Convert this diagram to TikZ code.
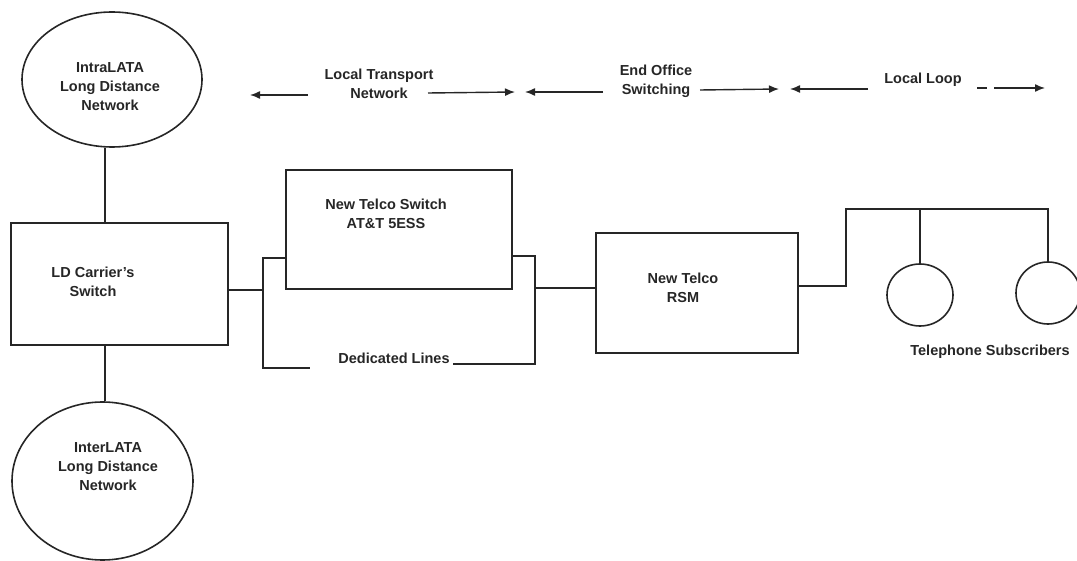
\documentclass[tikz,border=0pt]{standalone}
\usepackage{fontspec}
\setmainfont{Liberation Sans}
\usetikzlibrary{shapes.geometric,arrows.meta,calc}
\begin{document}
\begin{tikzpicture}[x=1pt,y=-1pt,
  ink/.style={draw=black!85,line width=1.6pt},
  boxnode/.style={ink,rectangle,inner sep=0pt},
  ellnode/.style={ink,ellipse,inner sep=0pt},
  lbl/.style={font=\bfseries\fontsize{14.5}{19}\selectfont,align=center,inner sep=0pt,text=black!85},
  wire/.style={draw=black!85,line width=1.5pt},
  arr/.style={draw=black!85,line width=1.4pt,-{Latex[length=10pt,width=8pt]}},
]
\useasboundingbox (0,0) rectangle (1077,561);

% shapes
\node[ellnode,minimum width=180pt,minimum height=135pt] (intra) at (112,79.5) {};
\node[ellnode,minimum width=181pt,minimum height=158pt] (inter) at (102.5,481) {};
\node[boxnode,minimum width=217pt,minimum height=122pt] (ld) at (119.5,284) {};
\node[boxnode,minimum width=226pt,minimum height=119pt] (sw) at (399,229.5) {};
\node[boxnode,minimum width=202pt,minimum height=120pt] (rsm) at (697,293) {};
\node[ellnode,minimum width=66pt,minimum height=62pt] (c1) at (920,295) {};
\node[ellnode,minimum width=64pt,minimum height=62pt] (c2) at (1048,293) {};

% texts
\node[lbl] (intraT) at (110,87) {IntraLATA\\Long Distance\\Network};
\node[lbl] (interT) at (108,467) {InterLATA\\Long Distance\\Network};
\node[lbl] (ldT) at (93,282) {LD Carrier’s\\Switch};
\node[lbl] (swT) at (386,214) {New Telco Switch\\AT\&T 5ESS};
\node[lbl] (rsmT) at (683,288) {New Telco\\RSM};
\node[lbl] (dedT) at (394,358) {Dedicated Lines};
\node[lbl] (subT) at (990,352) {Telephone Subscribers};
\node[lbl] (ltT) at (379,84) {Local Transport\\Network};
\node[lbl] (eoT) at (656,81) {End Office\\Switching};
\node[lbl] (llT) at (923,80) {Local Loop};

% top arrows
\coordinate (aAs) at (308,95);  \coordinate (aAe) at (250,95);
\coordinate (aBs) at (428,93);  \coordinate (aBe) at (515,92);
\coordinate (aCs) at (603,92);  \coordinate (aCe) at (525,92);
\coordinate (aDs) at (700,90);  \coordinate (aDe) at (779,89);
\coordinate (aEs) at (868,89);  \coordinate (aEe) at (790,89);
\coordinate (aFs) at (977,88);  \coordinate (aFe) at (1045,88);
\draw[arr] (aAs) -- (aAe);
\draw[arr] (aBs) -- (aBe);
\draw[arr] (aCs) -- (aCe);
\draw[arr] (aDs) -- (aDe);
\draw[arr] (aEs) -- (aEe);
\draw[arr,dash pattern=on 10pt off 7pt on 80pt] (aFs) -- (aFe);

% vertical links
\draw[wire] ([xshift=-7pt]intra.south) -- ([xshift=-7pt]intra.south |- ld.north);
\draw[wire] ([xshift=-14.5pt]ld.south) -- ([xshift=-14.5pt]ld.south |- inter.north);

% bracket around switch
\coordinate (bTL) at (263,258);
\coordinate (bMid) at (263,290);
\coordinate (bBL) at (263,368);
\coordinate (bBLend) at (310,368);
\coordinate (bBRs) at (453,364);
\coordinate (bBR) at (535,364);
\coordinate (bTR) at (535,256);
\coordinate (bOut) at (535,288);
\draw[wire] (ld.east |- bMid) -- (bMid);
\draw[wire] (sw.west |- bTL) -- (bTL) -- (bBL) -- (bBLend);
\draw[wire] (bBRs) -- (bBR) -- (bTR) -- (sw.east |- bTR);
\draw[wire] (bOut) -- (rsm.west |- bOut);

% subscriber loop
\coordinate (busL) at (846,209);
\coordinate (rsmOut) at (798,286);
\draw[wire] (rsm.east |- rsmOut) -| (busL) -- (c2.north |- busL) -- (c2.north);
\draw[wire] (c1.north |- busL) -- (c1.north);
\end{tikzpicture}
\end{document}
